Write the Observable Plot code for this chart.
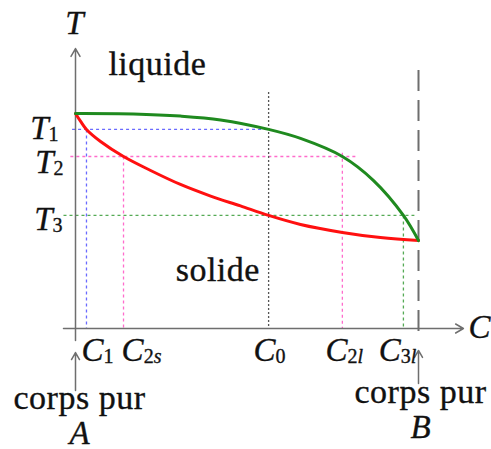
<!DOCTYPE html>
<html>
<head>
<meta charset="utf-8">
<script src="https://cdn.jsdelivr.net/npm/d3@7"></script>
<script src="https://cdn.jsdelivr.net/npm/@observablehq/plot@0.6"></script>
<style>
  html, body { margin: 0; padding: 0; background: #fff; }
  #chart svg { display: block; }
</style>
</head>
<body>
<div id="chart"></div>
<script>
// Binary phase diagram A–B with complete solid solubility.
// C = fraction of B (A at 0, B at 1); T is scaled so that the melting point of A is 1.

// Liquidus (upper, green)
const liquidusC = [0, 0.169, 0.306, 0.423, 0.563, 0.656, 0.778, 0.869, 0.956, 1];
const liquidusT = [1.0, 0.998, 0.988, 0.970, 0.926, 0.884, 0.800, 0.688, 0.526, 0.409];

// Solidus (lower, red)
const solidusC = [0, 0.015, 0.032, 0.073, 0.140, 0.219, 0.306, 0.394, 0.481, 0.563, 0.656, 0.778, 0.889, 1];
const solidusT = [1.0, 0.963, 0.926, 0.870, 0.800, 0.735, 0.670, 0.616, 0.570, 0.526, 0.484, 0.447, 0.423, 0.409];

// Temperature levels and compositions marked on the axes
const levelNames = ["T_1", "T_2", "T_3"];
const levelT = [0.926, 0.800, 0.526];
const compNames = ["C_1", "C_2s", "C_0", "C_2l", "C_3l"];
const compC = [0.032, 0.140, 0.563, 0.778, 0.956];

const regionNames = ["liquide", "solide"];

// ---- derived tables ----
const liquidus = liquidusC.map((c, i) => ({c, t: liquidusT[i]}));
const solidus = solidusC.map((c, i) => ({c, t: solidusT[i]}));

const blue = "#6a6aff", pink = "#ff6ccc", lgreen = "#55aa55", dgray = "#555";
const axisGray = "#6e6e6e";
const serif = "Liberation Serif";

const [T1, T2, T3] = levelT;
const [C1, C2s, C0, C2l, C3l] = compC;

// dotted tie lines and drop lines
const guides = [
  {x1: -0.01, y1: T1, x2: C0, y2: T1, color: blue},
  {x1: C1, y1: T1, x2: C1, y2: 0, color: blue},
  {x1: -0.015, y1: T2, x2: C2l + 0.038, y2: T2, color: pink},
  {x1: C2s, y1: T2, x2: C2s, y2: 0, color: pink},
  {x1: C2l, y1: T2 + 0.018, x2: C2l, y2: 0, color: pink},
  {x1: -0.035, y1: T3, x2: C3l + 0.032, y2: T3, color: lgreen},
  {x1: C3l, y1: T3, x2: C3l, y2: 0, color: lgreen}
];

const yAxisTop = 1.302, xAxisEnd = 1.131;

// nudges (px) for the labels along the axes
const compDx = [11, 18, 1, 2, -6];
const levelDx = [-17, -12, -13];
const levelDy = [10, 16, 15];

const txt = {fontFamily: serif, fontSize: 34, fill: "#111", stroke: "#111", strokeWidth: 0.35, lineAnchor: "bottom"};
const ital = {...txt, fontSize: 33, fontStyle: "italic"};

const levelMarks = levelNames.map((name, i) =>
  Plot.text([name], {x: 0, y: levelT[i], dx: levelDx[i], dy: levelDy[i], textAnchor: "end", ...ital}));
const compMarks = compNames.map((name, i) =>
  Plot.text([name], {x: compC[i], y: 0, dx: compDx[i], dy: 32, textAnchor: "middle", ...ital}));

const chart = Plot.plot({
  width: 491,
  height: 449,
  margin: 0,
  style: {background: "#fff", overflow: "visible", fontFamily: "Liberation Serif"},
  x: {domain: [0, 1], range: [75, 418], axis: null},
  y: {domain: [0, 1], range: [328, 113], axis: null},
  marks: [
    // drop / tie lines
    Plot.link(guides, {x1: "x1", y1: "y1", x2: "x2", y2: "y2", stroke: "color", strokeWidth: 1.3, strokeDasharray: "3,3"}),
    Plot.ruleX([C0], {y1: 1.098, y2: 0, stroke: dgray, strokeWidth: 1.3, strokeDasharray: "2,2"}),
    // pure B
    Plot.ruleX([1], {y1: 1.2, y2: -0.047, stroke: axisGray, strokeWidth: 2, strokeDasharray: "21,9"}),
    // axes
    Plot.arrow([0], {x1: 0, y1: -0.056, x2: 0, y2: yAxisTop, stroke: axisGray, strokeWidth: 1.5, headLength: 9, bend: 0}),
    Plot.arrow([0], {x1: -0.035, y1: 0, x2: xAxisEnd, y2: 0, stroke: axisGray, strokeWidth: 1.5, headLength: 9, bend: 0}),
    // pointers to the pure components
    Plot.arrow([0], {x1: 0, y1: -0.288, x2: 0, y2: -0.112, stroke: axisGray, strokeWidth: 1.5, headLength: 8, bend: 0}),
    Plot.arrow([0], {x1: 1, y1: -0.256, x2: 1, y2: -0.102, stroke: axisGray, strokeWidth: 1.5, headLength: 8, bend: 0}),
    // solidus and liquidus
    Plot.line(solidus, {x: "c", y: "t", stroke: "#ff1010", strokeWidth: 3, curve: "catmull-rom"}),
    Plot.line(liquidus, {x: "c", y: "t", stroke: "#1f8a1f", strokeWidth: 3, curve: "catmull-rom"}),
    // axis titles
    Plot.text(["T"], {x: 0, y: yAxisTop, dx: -1, dy: -15, ...ital}),
    Plot.text(["C"], {x: xAxisEnd, y: 0, dx: 5, dy: 9, textAnchor: "start", ...ital}),
    ...levelMarks,
    ...compMarks,
    // regions
    Plot.text([regionNames[0]], {x: 0.096, y: 1.181, textAnchor: "start", ...txt}),
    Plot.text([regionNames[1]], {x: 0.292, y: 0.223, textAnchor: "start", ...txt}),
    // pure components
    Plot.text(["corps pur"], {x: 0, y: 0, dx: 4, dy: 80, textAnchor: "middle", ...txt}),
    Plot.text(["A"], {x: 0, y: 0, dx: 4, dy: 115, textAnchor: "middle", ...ital}),
    Plot.text(["corps pur"], {x: 1, y: 0, dx: 2, dy: 74, textAnchor: "middle", ...txt}),
    Plot.text(["B"], {x: 1, y: 0, dx: 2, dy: 109, textAnchor: "middle", ...ital})
  ]
});

// serif face on every label, and "X_ab" labels split into a letter with a subscript
d3.select(chart).selectAll("text").each(function() {
  this.style.fontFamily = '"Liberation Serif", "Times New Roman", Tinos, "DejaVu Serif", serif';
  if (this.getAttribute("font-style") !== "italic" && !this.closest("[font-style=italic]")) {
    this.style.letterSpacing = "0.5px";
  }
  const s = this.textContent;
  const i = s.indexOf("_");
  if (i < 0) return;
  const t = d3.select(this).text(null);
  t.append("tspan").text(s.slice(0, i));
  let first = true;
  for (const ch of s.slice(i + 1)) {
    const sp = t.append("tspan")
      .attr("font-size", 20)
      .attr("font-style", /\d/.test(ch) ? "normal" : "italic")
      .text(ch);
    if (first) { sp.attr("dy", 2); first = false; }
  }
});

document.getElementById("chart").append(chart);
</script>
</body>
</html>
